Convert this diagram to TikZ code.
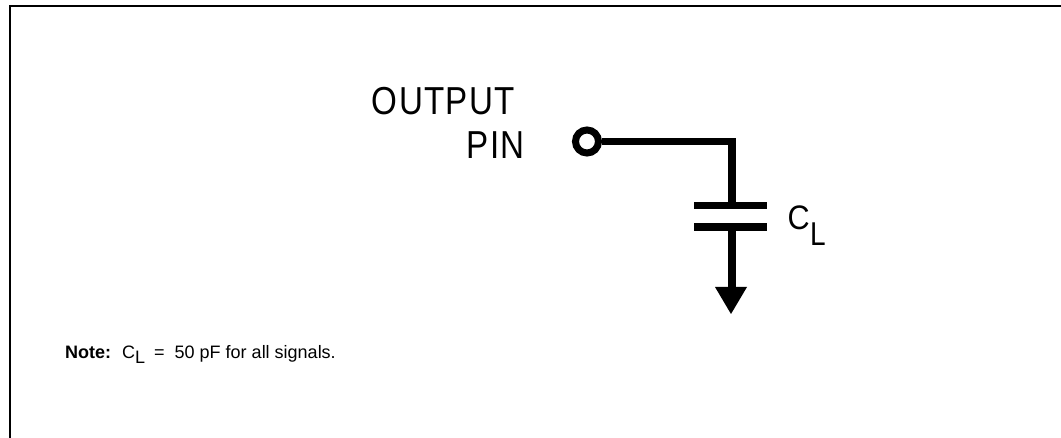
\documentclass[tikz,border=0pt]{standalone}
\usepackage{fontspec}
\setmainfont{Liberation Sans}
\begin{document}
\begin{tikzpicture}[x=1pt,y=-1pt,
  frameline/.style={line width=2.2pt,black},
  wire/.style={line width=7.5pt,black},
  plate/.style={line width=7.5pt,black},
  biglabel/.style={inner sep=0pt,anchor=base east,xscale=0.85,font=\fontsize{39}{39}\selectfont\addfontfeature{LetterSpace=4}},
  notetext/.style={inner sep=0pt,anchor=base west,font=\fontsize{18}{20}\selectfont}]
\useasboundingbox (0,0) rectangle (1061,438);
\coordinate (fa) at (10,438);
\coordinate (fb) at (10,6);
\coordinate (fc) at (1061,6);
\draw[frameline] (fa) -- (fb) -- (fc);
\node[biglabel] (out) at (515,115) {OUTPUT};
\node[biglabel] (pin) at (525,159) {PIN};
\node[circle,draw=black,line width=7pt,minimum size=23pt,inner sep=0pt] (p) at (587,141.5) {};
\coordinate (corner) at (732,141.5);
\coordinate (top) at (732,205.5);
\coordinate (bot) at (732,227);
\coordinate (pl) at (694,205.5);
\coordinate (pr) at (767,205.5);
\coordinate (ql) at (694,227);
\coordinate (qr) at (767,227);
\coordinate (gtop) at (732,290);
\coordinate (gl) at (715,287);
\coordinate (gr) at (747,287);
\coordinate (gt) at (731,314);
\draw[wire] (p.east) -- (corner) -- (top);
\draw[plate] (pl) -- (pr);
\draw[plate] (ql) -- (qr);
\draw[wire] (bot) -- (gtop);
\fill[black] (gl) -- (gr) -- (gt) -- cycle;
\node[inner sep=0pt,anchor=base west,font=\fontsize{34}{34}\selectfont,xscale=0.9] (cl) at (787.5,230) {C};
\node[inner sep=0pt,anchor=base west,font=\fontsize{33}{33}\selectfont,xscale=0.85] (cs) at (810,246) {L};
\node[notetext] (note) at (65,359) {\textbf{Note:}\hspace{11pt}C\raisebox{-5pt}{L}\hspace{9pt}=\hspace{10pt}50 pF for all signals.};
\end{tikzpicture}
\end{document}
